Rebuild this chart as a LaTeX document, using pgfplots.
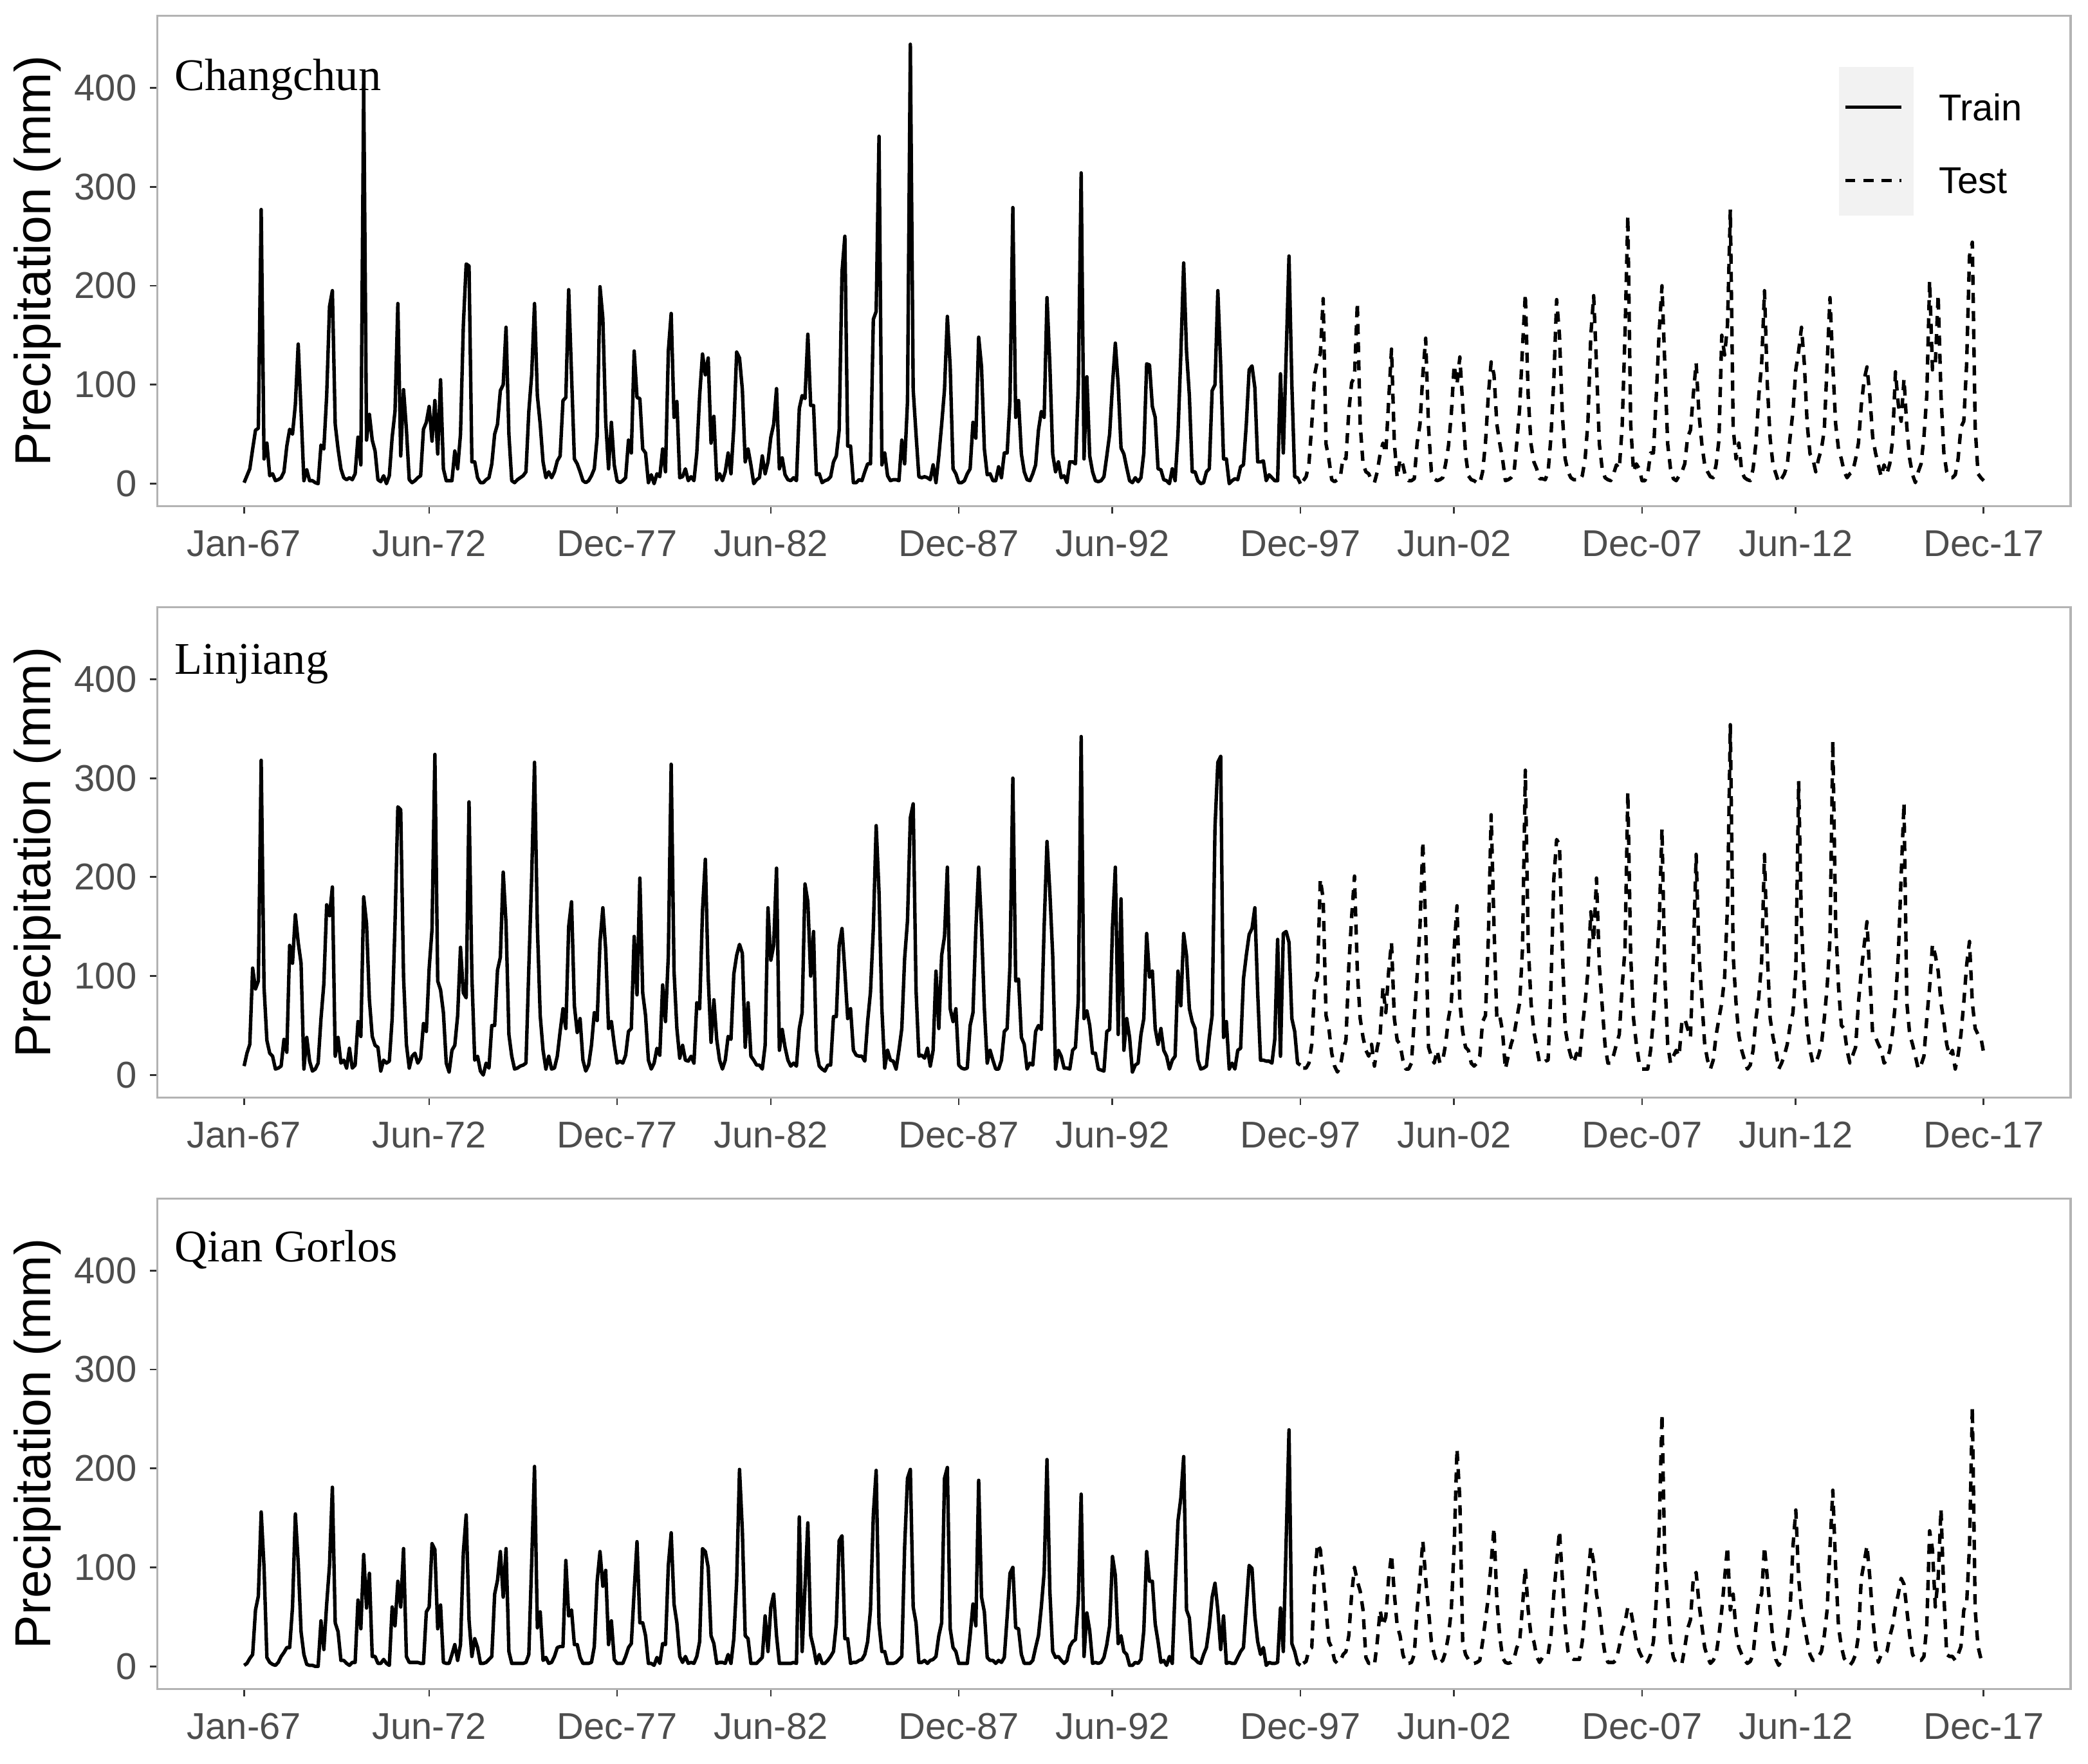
\documentclass[border=0pt]{standalone}
\usepackage{fontspec}
\setmainfont{Liberation Sans}
\newfontfamily\stationfont{Liberation Serif}
\usepackage{pgfplots}
\usepackage{pgfplotstable}
\pgfplotsset{compat=1.18}

\definecolor{bordergray}{HTML}{B3B3B3}
\definecolor{tickgray}{HTML}{333333}
\definecolor{labelgray}{HTML}{4D4D4D}
\definecolor{keygray}{HTML}{F2F2F2}

% Changchun, train Jan-67..Dec-97 (one row per month, one line per year)
\pgfplotstableread[header=false,row sep=\\]{
1\\8\\15\\35\\54\\56\\277\\25\\41\\8\\10\\3\\
4\\6\\12\\38\\55\\50\\80\\141\\73\\3\\14\\3\\
3\\1\\0\\39\\35\\89\\179\\195\\60\\35\\15\\6\\
4\\6\\4\\10\\47\\19\\403\\44\\70\\44\\33\\4\\
2\\8\\0\\8\\47\\73\\182\\28\\95\\55\\4\\1\\
3\\6\\8\\55\\62\\78\\43\\84\\30\\105\\15\\3\\
3\\3\\33\\15\\50\\160\\222\\220\\22\\22\\6\\1\\
1\\4\\6\\20\\50\\60\\94\\100\\158\\50\\3\\1\\
4\\6\\8\\12\\73\\110\\182\\89\\60\\22\\6\\12\\
6\\12\\23\\28\\84\\87\\196\\110\\25\\20\\12\\3\\
1\\3\\8\\15\\47\\199\\167\\63\\15\\62\\19\\3\\
1\\3\\6\\44\\31\\134\\87\\86\\35\\31\\1\\9\\
0\\10\\7\\35\\12\\134\\172\\67\\83\\6\\7\\15\\
3\\7\\3\\31\\89\\131\\110\\127\\41\\68\\4\\10\\
3\\12\\31\\10\\57\\133\\127\\95\\22\\35\\19\\0\\
4\\6\\28\\10\\22\\47\\60\\96\\15\\26\\9\\4\\
3\\6\\3\\76\\89\\86\\151\\79\\79\\9\\10\\1\\
3\\4\\7\\22\\28\\54\\214\\250\\38\\38\\1\\1\\
4\\3\\12\\20\\20\\166\\174\\351\\19\\31\\8\\3\\
4\\4\\3\\44\\20\\83\\444\\95\\50\\7\\6\\7\\
6\\4\\19\\1\\28\\60\\95\\169\\118\\15\\10\\1\\
1\\3\\10\\15\\62\\46\\148\\118\\35\\9\\10\\3\\
3\\17\\6\\31\\31\\84\\279\\67\\84\\30\\12\\4\\
3\\10\\19\\54\\73\\67\\188\\120\\30\\12\\22\\6\\
8\\1\\22\\22\\20\\100\\314\\25\\108\\28\\12\\3\\
2\\3\\7\\28\\50\\100\\142\\100\\36\\30\\16\\3\\
1\\6\\2\\6\\31\\121\\120\\78\\67\\15\\14\\4\\
3\\0\\15\\3\\50\\130\\223\\134\\89\\12\\12\\3\\
0\\1\\12\\15\\94\\100\\195\\120\\25\\25\\0\\3\\
5\\4\\17\\19\\60\\115\\119\\97\\22\\22\\23\\3\\
9\\6\\3\\3\\111\\31\\130\\230\\100\\7\\6\\0\\
}\cctrain

% Changchun, test Jan-98..Dec-17
\pgfplotstableread[header=false,row sep=\\]{
3\\7\\20\\60\\110\\125\\131\\187\\40\\25\\4\\2\\
4\\6\\27\\25\\73\\102\\108\\183\\60\\20\\12\\10\\
3\\1\\12\\30\\41\\31\\84\\136\\41\\6\\25\\19\\
6\\3\\3\\5\\41\\60\\110\\147\\57\\12\\5\\3\\
4\\6\\20\\38\\70\\120\\100\\128\\80\\30\\8\\4\\
3\\1\\0\\12\\41\\89\\123\\110\\60\\41\\25\\3\\
4\\6\\10\\41\\76\\137\\192\\89\\40\\22\\15\\5\\
5\\4\\12\\47\\105\\186\\150\\70\\25\\12\\6\\4\\
4\\3\\8\\25\\63\\150\\190\\120\\40\\15\\6\\4\\
3\\10\\19\\15\\57\\150\\271\\60\\12\\20\\15\\3\\
3\\10\\31\\31\\89\\153\\200\\120\\40\\15\\5\\3\\
8\\12\\20\\47\\54\\90\\122\\70\\40\\19\\12\\7\\
6\\19\\44\\150\\130\\160\\277\\57\\25\\41\\12\\6\\
4\\3\\15\\41\\89\\121\\195\\100\\45\\19\\10\\1\\
5\\10\\19\\47\\73\\115\\134\\158\\121\\60\\30\\25\\
12\\25\\35\\54\\121\\188\\120\\60\\35\\25\\12\\6\\
10\\12\\25\\41\\79\\105\\118\\89\\47\\31\\19\\7\\
19\\10\\20\\44\\113\\80\\63\\106\\57\\25\\9\\1\\
12\\20\\47\\89\\205\\115\\121\\191\\89\\31\\12\\6\\
6\\9\\25\\57\\63\\121\\230\\244\\57\\10\\6\\3\\
}\cctest

% Linjiang, train
\pgfplotstableread[header=false,row sep=\\]{
9\\22\\31\\108\\87\\95\\318\\89\\35\\22\\19\\6\\
7\\9\\36\\23\\131\\113\\162\\134\\113\\6\\38\\14\\
4\\6\\12\\57\\92\\172\\161\\190\\19\\38\\12\\15\\
7\\27\\7\\10\\54\\39\\180\\153\\76\\39\\30\\28\\
4\\15\\12\\14\\57\\153\\271\\268\\99\\31\\7\\19\\
22\\12\\17\\52\\44\\108\\147\\324\\95\\86\\63\\12\\
3\\25\\30\\60\\129\\83\\78\\276\\100\\15\\19\\4\\
0\\12\\7\\50\\50\\106\\119\\205\\153\\41\\19\\6\\
7\\9\\10\\12\\108\\200\\316\\150\\60\\25\\6\\19\\
6\\7\\19\\44\\67\\47\\150\\175\\70\\43\\57\\15\\
4\\10\\30\\63\\55\\134\\169\\127\\47\\54\\31\\12\\
14\\12\\20\\44\\47\\140\\81\\199\\83\\60\\15\\6\\
12\\27\\20\\91\\54\\121\\314\\105\\47\\17\\30\\15\\
14\\19\\12\\73\\67\\166\\218\\99\\33\\76\\36\\15\\
6\\15\\39\\36\\102\\121\\132\\123\\28\\73\\19\\15\\
10\\10\\6\\30\\169\\116\\131\\209\\25\\46\\28\\15\\
9\\12\\9\\47\\63\\193\\175\\100\\145\\25\\9\\6\\
4\\10\\10\\59\\59\\131\\148\\105\\57\\67\\25\\20\\
19\\19\\14\\54\\84\\148\\252\\185\\67\\7\\25\\15\\
14\\6\\25\\47\\118\\156\\260\\274\\86\\19\\20\\17\\
27\\9\\25\\105\\47\\121\\140\\210\\67\\54\\67\\10\\
7\\6\\7\\50\\63\\147\\210\\150\\67\\12\\25\\15\\
6\\6\\15\\44\\47\\111\\300\\95\\97\\38\\31\\6\\
12\\10\\44\\50\\46\\150\\236\\185\\121\\6\\25\\19\\
7\\7\\6\\25\\28\\76\\342\\57\\65\\50\\22\\22\\
6\\5\\4\\44\\46\\150\\210\\41\\178\\25\\57\\38\\
3\\10\\12\\41\\57\\143\\99\\105\\47\\31\\47\\25\\
19\\6\\15\\19\\105\\70\\143\\121\\67\\54\\47\\15\\
6\\7\\9\\38\\60\\250\\316\\322\\38\\54\\6\\12\\
6\\25\\27\\97\\121\\142\\148\\169\\83\\15\\15\\14\\
14\\12\\36\\137\\19\\143\\145\\134\\57\\44\\12\\10\\
}\ljtrain

% Linjiang, test
\pgfplotstableread[header=false,row sep=\\]{
7\\7\\12\\31\\90\\100\\198\\178\\60\\47\\22\\9\\
3\\8\\25\\35\\110\\160\\201\\105\\57\\38\\25\\19\\
31\\9\\28\\40\\89\\63\\105\\134\\57\\35\\31\\15\\
6\\6\\12\\57\\100\\150\\236\\150\\28\\19\\12\\25\\
12\\15\\31\\57\\73\\127\\171\\73\\44\\28\\25\\12\\
9\\12\\19\\54\\60\\137\\263\\150\\57\\60\\44\\6\\
19\\31\\40\\57\\73\\127\\308\\134\\73\\44\\28\\12\\
12\\14\\15\\89\\198\\238\\233\\127\\47\\30\\19\\12\\
22\\15\\47\\73\\105\\165\\135\\199\\110\\70\\30\\12\\
12\\20\\31\\41\\89\\127\\286\\121\\57\\31\\12\\6\\
6\\6\\25\\57\\105\\153\\249\\100\\31\\12\\19\\25\\
19\\54\\57\\47\\38\\120\\223\\121\\76\\31\\15\\6\\
15\\40\\57\\73\\99\\170\\354\\121\\73\\40\\25\\15\\
6\\10\\25\\57\\79\\115\\223\\121\\57\\38\\25\\6\\
12\\20\\31\\50\\63\\105\\297\\150\\89\\47\\25\\12\\
12\\20\\31\\57\\89\\137\\338\\153\\89\\50\\47\\25\\
12\\20\\28\\73\\105\\131\\155\\100\\41\\38\\31\\25\\
12\\15\\25\\44\\73\\121\\201\\275\\73\\41\\31\\19\\
6\\10\\19\\57\\89\\132\\121\\105\\73\\54\\31\\19\\
25\\6\\20\\41\\73\\111\\135\\73\\47\\41\\38\\22\\
}\ljtest

% Qian Gorlos, train
\pgfplotstableread[header=false,row sep=\\]{
1\\3\\8\\12\\57\\71\\156\\100\\9\\4\\2\\1\\
4\\10\\14\\19\\19\\60\\154\\105\\35\\12\\2\\1\\
1\\0\\0\\46\\17\\63\\102\\181\\44\\35\\6\\6\\
3\\1\\4\\4\\67\\38\\113\\59\\94\\10\\10\\3\\
3\\7\\3\\1\\60\\41\\86\\60\\119\\10\\4\\4\\
4\\4\\3\\3\\55\\60\\124\\118\\38\\62\\4\\3\\
3\\12\\22\\6\\22\\115\\153\\47\\10\\28\\19\\3\\
3\\4\\7\\10\\73\\87\\116\\70\\119\\15\\3\\3\\
3\\3\\3\\4\\12\\105\\202\\39\\55\\6\\9\\3\\
4\\10\\19\\20\\20\\107\\51\\57\\22\\22\\9\\3\\
3\\3\\4\\20\\86\\116\\81\\97\\22\\46\\7\\3\\
3\\3\\10\\19\\23\\76\\126\\44\\44\\31\\3\\3\\
1\\9\\3\\23\\22\\102\\135\\63\\44\\10\\4\\10\\
3\\4\\3\\10\\25\\119\\116\\100\\31\\23\\3\\4\\
4\\3\\12\\3\\28\\86\\199\\137\\31\\28\\3\\3\\
3\\6\\9\\51\\15\\60\\73\\31\\3\\3\\3\\3\\
3\\4\\3\\151\\15\\80\\145\\31\\19\\3\\12\\3\\
3\\6\\10\\15\\43\\127\\132\\28\\28\\3\\4\\4\\
6\\7\\12\\25\\57\\153\\198\\43\\15\\15\\3\\3\\
3\\4\\7\\10\\121\\190\\199\\60\\44\\4\\4\\6\\
3\\6\\7\\10\\31\\44\\190\\201\\38\\19\\15\\3\\
3\\3\\3\\31\\63\\41\\188\\70\\55\\9\\6\\6\\
3\\6\\4\\9\\50\\94\\100\\39\\38\\12\\3\\3\\
3\\6\\19\\31\\60\\95\\209\\76\\15\\9\\10\\6\\
3\\6\\20\\25\\27\\68\\174\\10\\54\\36\\3\\4\\
3\\4\\9\\22\\41\\111\\92\\23\\31\\15\\12\\1\\
1\\4\\3\\7\\36\\116\\86\\86\\43\\25\\4\\6\\
1\\10\\3\\79\\147\\170\\212\\57\\49\\9\\7\\4\\
3\\12\\19\\40\\70\\84\\57\\17\\51\\3\\4\\3\\
3\\9\\15\\19\\60\\102\\99\\51\\25\\12\\19\\1\\
4\\3\\3\\4\\59\\15\\127\\239\\23\\15\\3\\1\\
}\qgtrain

% Qian Gorlos, test
\pgfplotstableread[header=false,row sep=\\]{
3\\5\\17\\19\\89\\124\\118\\89\\57\\25\\19\\6\\
3\\5\\12\\15\\31\\73\\100\\86\\76\\57\\9\\3\\
3\\1\\25\\57\\41\\50\\89\\113\\73\\41\\31\\12\\
3\\3\\4\\12\\57\\89\\127\\89\\57\\25\\12\\3\\
4\\6\\15\\31\\57\\121\\220\\169\\25\\12\\7\\3\\
3\\4\\6\\25\\47\\70\\105\\140\\67\\31\\9\\4\\
3\\4\\7\\19\\25\\60\\100\\57\\31\\25\\10\\4\\
9\\9\\12\\31\\73\\105\\137\\89\\41\\15\\9\\7\\
7\\7\\25\\57\\90\\121\\105\\73\\57\\31\\12\\4\\
4\\4\\7\\20\\35\\44\\60\\57\\41\\25\\15\\9\\
3\\5\\12\\25\\67\\137\\255\\105\\67\\25\\9\\3\\
3\\3\\19\\38\\47\\89\\95\\63\\41\\19\\9\\3\\
6\\12\\31\\57\\89\\121\\57\\73\\35\\19\\12\\6\\
3\\5\\12\\41\\67\\73\\121\\89\\57\\25\\7\\1\\
6\\12\\31\\57\\121\\158\\89\\57\\41\\25\\12\\6\\
6\\10\\15\\31\\57\\120\\178\\100\\40\\20\\8\\4\\
1\\5\\12\\31\\89\\105\\122\\90\\50\\20\\4\\12\\
12\\15\\30\\41\\60\\73\\89\\83\\57\\31\\12\\7\\
6\\6\\10\\41\\137\\118\\60\\89\\159\\73\\12\\10\\
10\\6\\12\\20\\57\\63\\121\\262\\57\\20\\8\\6\\
}\qgtest

\tikzset{
  teststyle/.style={dash pattern=on 3.8pt off 3pt},
  stationlabel/.style={anchor=base west, inner sep=0pt, font=\stationfont\fontsize{17}{20}\selectfont},
}

\pgfplotsset{
  panel/.style={
    scale only axis, width=718.5pt, height=184pt,
    xmin=-30.55, xmax=641.55, ymin=-22.7, ymax=472.6,
    axis line style={bordergray, line width=0.8pt},
    xtick={0,65,131,185,251,305,371,425,491,545,611},
    xticklabels={Jan-67,Jun-72,Dec-77,Jun-82,Dec-87,Jun-92,Dec-97,Jun-02,Dec-07,Jun-12,Dec-17},
    ytick={0,100,200,300,400},
    yticklabels={0,100,200,300,400},
    xtick pos=bottom, ytick pos=left,
    tick align=outside, major tick length=2.75pt,
    tick style={tickgray, line width=0.7pt},
    tick label style={font=\fontsize{14}{16}\selectfont, text=labelgray},
    xticklabel style={inner sep=0pt, anchor=north},
    yticklabel style={inner sep=0pt, anchor=east},
    xticklabel shift=6.25pt,
    yticklabel shift=4.75pt,
    ylabel={Precipitation (mm)},
    ylabel style={font=\fontsize{19}{22}\selectfont, at={(axis description cs:-0.0626,0.5)}, anchor=center},
    every axis plot/.append style={line width=1.3pt, black, no markers, line join=round},
  },
}

\begin{document}
\begin{tikzpicture}
\path[use as bounding box] (-59pt,-472pt) rectangle (725pt,190pt);

\begin{axis}[panel, at={(0pt,0pt)}, anchor=south west,
  legend cell align=left,
  legend image code/.code={\draw[#1] (0pt,0pt) -- (21pt,0pt);},
  legend style={at={(axis description cs:0.8810,0.8424)}, anchor=north west,
    draw=none, fill=none, inner sep=0pt, row sep=17.5pt, column sep=13.5pt,
    font=\fontsize{14}{16}\selectfont,
    nodes={inner sep=0pt, text height=10pt, text depth=0pt}},
]
  \fill[keygray] (axis description cs:0.8789,0.5924) rectangle (axis description cs:0.9179,0.8967);
  \addplot[solid] table[x expr=\coordindex, y index=0] {\cctrain};
  \addlegendentry{Train}
  \addplot[teststyle] table[x expr=\coordindex+372, y index=0] {\cctest};
  \addlegendentry{Test}
  \node[stationlabel] at (axis description cs:0.009,0.848) {Changchun};
\end{axis}

\begin{axis}[panel, at={(0pt,-222pt)}, anchor=south west]
  \addplot[solid] table[x expr=\coordindex, y index=0] {\ljtrain};
  \addplot[teststyle] table[x expr=\coordindex+372, y index=0] {\ljtest};
  \node[stationlabel] at (axis description cs:0.009,0.864) {Linjiang};
\end{axis}

\begin{axis}[panel, at={(0pt,-444pt)}, anchor=south west]
  \addplot[solid] table[x expr=\coordindex, y index=0] {\qgtrain};
  \addplot[teststyle] table[x expr=\coordindex+372, y index=0] {\qgtest};
  \node[stationlabel] at (axis description cs:0.009,0.871) {Qian Gorlos};
\end{axis}
\end{tikzpicture}
\end{document}
